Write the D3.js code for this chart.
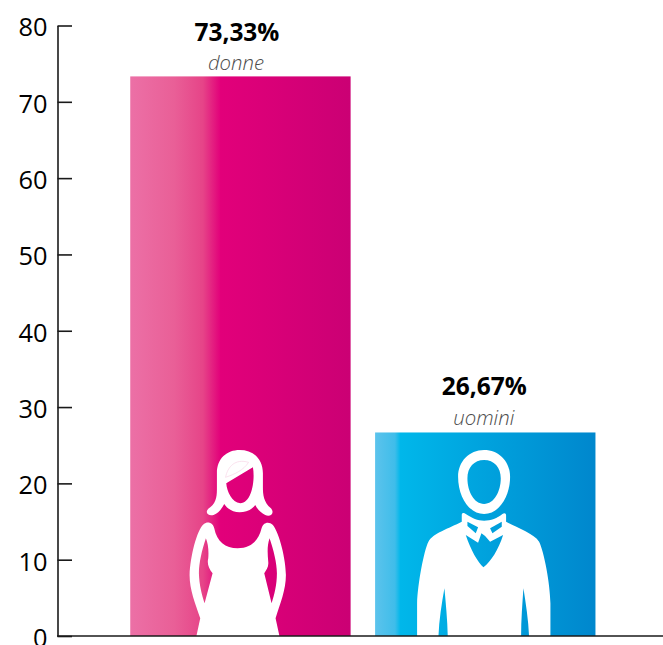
<!DOCTYPE html>
<html><head><meta charset="utf-8">
<script src="https://cdn.jsdelivr.net/npm/d3@7"></script>
<style>html,body{margin:0;padding:0;background:#fff;overflow:hidden}svg{display:block}text{font-family:"Open Sans",sans-serif}</style>
</head><body><div id="c"></div>
<script>
const categories = ["donne", "uomini"];
const values = [73.33, 26.67];
const valueLabels = ["73,33%", "26,67%"];
const yTicks = [0, 10, 20, 30, 40, 50, 60, 70, 80];
const valueLabelShift = [[-3.5, -35.5], [-1, -37.5]];
const nameLabelShift = [[-4.5, -6.5], [-1.5, -7]];
const nameLabelWidth = [56, 61];
const gradientStops = [
  [[0, "#ec70a6"], [0.2, "#e95f97"], [0.33, "#e64488"], [0.41, "#e2007a"], [1, "#cb0074"]],
  [[0, "#5cc3ec"], [0.09, "#3fbdea"], [0.115, "#00b7ea"], [1, "#0087cd"]]
];
const iconShapes = [
  [
    "M270,232C290,215 290,195 290,170L290,130C290,85 320,60 358,60C398,60 428,85 428,130L428,170C428,195 430,215 452,235C465,250 450,262 435,255C420,248 410,235 405,225C395,240 375,247 358,247C340,247 322,238 312,222C305,235 295,250 280,255C262,260 250,245 270,232Z" +
    "M318,160L398,112C405,150 395,218 360,220C335,218 320,185 318,160Z",
    "M228,620L240,565C225,520 208,480 208,435C210,380 230,300 250,283C262,272 278,278 282,295C290,335 315,355 352,355C395,355 415,330 424,295C428,278 445,272 458,285C478,310 497,390 497,435C497,480 480,520 466,565L478,620Z" +
    "M257,325C245,360 236,400 236,430C237,465 245,495 253,520L277,430C265,415 260,400 264,385C266,360 263,340 257,325Z" +
    "M448,325C440,350 442,370 444,395C446,410 438,420 432,430L454,520C462,495 470,465 470,430C470,400 460,360 448,325Z"
  ],
  [
    "M355,240C400,240 433,275 433,320C433,380 400,432 355,432C310,432 277,380 277,320C277,275 310,240 355,240Z" +
    "M355,270C385,270 405,292 405,325C405,365 385,402 355,402C325,402 305,365 305,325C305,292 325,270 355,270Z",
    "M154,800L154,700C156,640 175,540 188,515C200,490 250,475 288,455L288,435C288,428 295,428 300,432C320,445 335,452 355,452C375,452 395,445 410,432C416,428 421,430 421,436L421,455C450,472 505,490 520,515C535,545 553,640 554,700L554,800Z" +
    "M300,495L337,518L347,490L358,498L373,515L412,495C398,540 375,575 353,592C335,575 315,540 300,495Z" +
    "M305,455L337,472L330,490L305,468Z M408,455L373,475L380,490L408,470Z" +
    "M236,655C228,700 220,750 218,800L246,800C245,750 240,700 236,655Z" +
    "M473,655C470,700 466,750 466,800L490,800C488,750 480,700 473,655Z"
  ]
];
const iconOrigins = [[30, 618], [28, 798]];
const womanHighlight = "M316,142C322,110 345,85 385,97C370,120 345,132 316,142Z";

const W = 663, H = 645;
const svg = d3.select("#c").append("svg").attr("width", W).attr("height", H);
const y = d3.scaleLinear().domain([0, 80]).range([636, 25.5]);
const x = d3.scaleBand().domain(categories).range([118, 607.7]).paddingInner(0.1).paddingOuter(0.05);

const defs = svg.append("defs");
categories.forEach((c, i) => {
  const g = defs.append("linearGradient").attr("id", "g" + i);
  gradientStops[i].forEach(s => g.append("stop").attr("offset", s[0]).attr("stop-color", s[1]));
});

const bars = svg.selectAll("g.bar").data(categories).join("g").attr("class", "bar");
bars.append("rect")
  .attr("x", d => x(d)).attr("width", x.bandwidth())
  .attr("y", (d, i) => y(values[i])).attr("height", (d, i) => y(0) - y(values[i]))
  .attr("fill", (d, i) => `url(#g${i})`);

bars.each(function (d, i) {
  const g = d3.select(this).append("g")
    .attr("transform", `translate(${x(d)},${y(0)}) scale(${1 / 3}) translate(${-iconOrigins[i][0]},${-iconOrigins[i][1]})`);
  iconShapes[i].forEach(p => g.append("path").attr("d", p).attr("fill", "#fff").attr("fill-rule", "evenodd"));
  if (i === 0) g.append("path").attr("d", womanHighlight).attr("fill", "none").attr("stroke", "#f8d3e6").attr("stroke-width", 2);
});

bars.append("text")
  .attr("x", (d, i) => x(d) + x.bandwidth() / 2 + valueLabelShift[i][0]).attr("y", (d, i) => y(values[i]) + valueLabelShift[i][1])
  .attr("text-anchor", "middle").attr("font-weight", 700).attr("font-size", 25).attr("fill", "#000")
  .attr("textLength", 85).attr("lengthAdjust", "spacingAndGlyphs")
  .text((d, i) => valueLabels[i]);
bars.append("text")
  .attr("x", (d, i) => x(d) + x.bandwidth() / 2 + nameLabelShift[i][0]).attr("y", (d, i) => y(values[i]) + nameLabelShift[i][1])
  .attr("text-anchor", "middle").attr("font-style", "italic").attr("font-weight", 300).attr("font-size", 21).attr("fill", "#4d4d4d")
  .attr("textLength", (d, i) => nameLabelWidth[i]).attr("lengthAdjust", "spacingAndGlyphs")
  .text(d => d);

const axis = svg.append("g").attr("transform", "translate(57.5,0)")
  .call(d3.axisLeft(y).tickValues(yTicks).tickSizeInner(-14.5).tickSizeOuter(0).tickPadding(10).tickFormat(d3.format("d")));
axis.selectAll("path,line").attr("stroke", "#1a1a1a").attr("stroke-width", 1.6);
axis.selectAll("text").attr("font-size", 26).attr("fill", "#000").attr("x", -10).attr("dy", "0.4em")
  .attr("textLength", d => d === 0 ? 14.5 : 29).attr("lengthAdjust", "spacingAndGlyphs");

svg.append("line").attr("x1", 57).attr("x2", W).attr("y1", y(0)).attr("y2", y(0)).attr("stroke", "#1a1a1a").attr("stroke-width", 1.6);
</script></body></html>
